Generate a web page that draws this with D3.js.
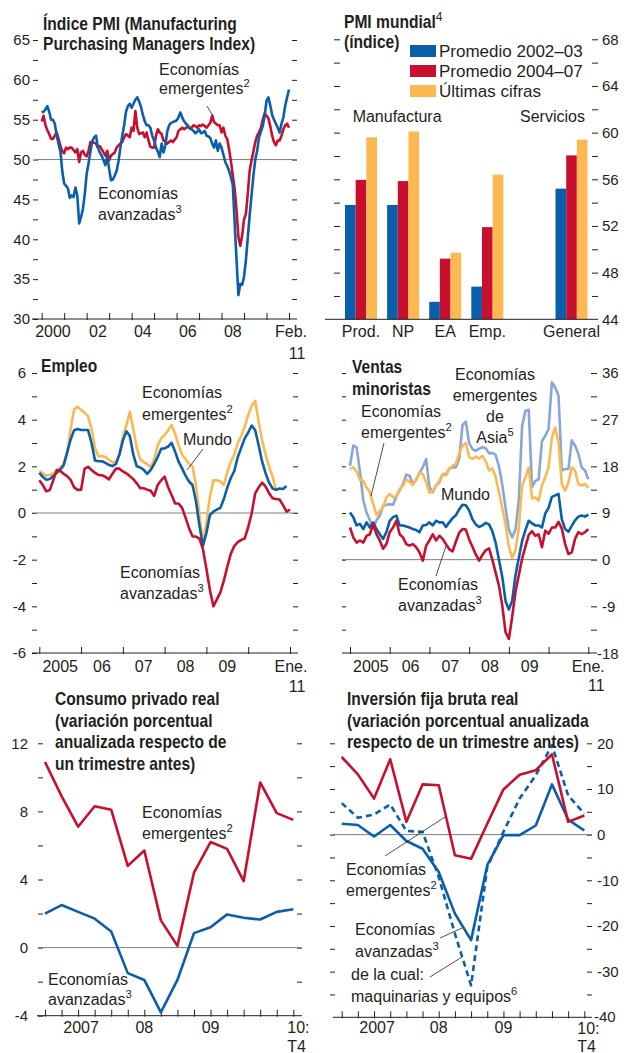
<!DOCTYPE html>
<html>
<head>
<meta charset="utf-8">
<script src="https://cdn.jsdelivr.net/npm/d3@7"></script>
<style>
  body { margin: 0; background: #fff; }
</style>
</head>
<body>
<div id="chart"></div>
<script>
// ---- data ----------------------------------------------------------------

// PMI manufacturero, mensual, ene. 2000 - 2011
const pmiAdvanced = [
  55.9, 56.0, 56.3, 56.7, 56.0, 55.0, 55.0, 54.5, 53.0, 52.0, 51.0, 48.5,
  47.0, 46.7, 46.4, 45.2, 45.5, 45.3, 46.5, 45.5, 42.0, 42.8, 43.8, 45.7,
  48.2, 49.5, 51.0, 52.3, 52.8, 53.0, 51.5, 50.9, 50.5, 49.9, 49.3, 50.5,
  48.8, 47.4, 47.5, 48.0, 48.6, 49.8, 51.5, 53.0, 54.3, 56.0, 56.7, 57.0,
  56.5, 57.0, 57.5, 57.8, 57.3, 56.6, 55.6, 54.8, 54.3, 54.3, 54.0, 53.0,
  52.4, 51.5, 51.0, 50.3, 52.0, 50.9, 51.8, 53.5, 54.3, 54.6, 54.7, 54.8,
  54.9, 55.3, 55.9, 55.3, 54.8, 54.5, 54.3, 53.9, 53.8, 53.6, 53.3, 53.5,
  53.8, 53.3, 53.4, 53.6, 53.0, 52.9, 52.7, 52.0, 51.5, 52.4, 51.1, 52.0,
  51.5, 50.6, 49.7, 49.2, 48.6, 47.8, 46.8, 42.0, 37.4, 33.0, 34.4, 34.3,
  35.3, 37.4, 40.2, 43.0, 45.5, 48.0, 50.0, 51.1, 52.8, 53.5, 54.2, 55.5,
  57.4, 57.8, 56.8, 55.6, 55.0, 54.5, 54.0, 53.4, 54.5, 55.3, 56.8, 57.8,
  58.8
];
const pmiEmerging = [
  54.8, 55.5, 54.3, 53.7, 53.2, 52.6, 52.6, 53.0, 53.4, 52.6, 51.7, 51.0,
  50.8, 51.5, 51.3, 51.5, 51.5, 51.2, 50.9, 51.3, 49.7, 50.9, 51.1, 50.6,
  50.4, 51.1, 52.2, 52.2, 52.1, 52.0, 51.5, 51.7, 51.3, 50.9, 50.5, 51.1,
  49.9, 50.5, 50.7, 50.9, 51.5, 51.8, 52.0, 52.2, 52.8, 53.2, 53.0, 52.8,
  54.0, 53.6, 56.1, 54.0, 53.2, 53.3, 53.4, 52.8, 53.4, 52.4, 51.6, 51.5,
  51.5, 53.0, 53.8, 53.4, 53.2, 52.4, 52.3, 52.0, 52.2, 52.4, 52.2, 52.5,
  52.8, 53.6, 53.8, 54.0, 53.8, 54.0, 54.1, 54.0, 54.0, 54.3, 54.2, 54.0,
  54.3, 54.2, 54.4, 54.2, 54.0, 54.3, 54.6, 55.5, 54.7, 54.5, 54.3, 54.3,
  53.4, 54.0, 53.0, 52.6, 51.3, 49.8, 48.0, 46.3, 43.6, 40.3, 39.2, 40.5,
  42.5, 43.2, 45.7, 48.6, 49.9, 51.0, 52.2, 53.0, 53.4, 54.0, 55.0, 55.8,
  55.5, 55.2, 54.2, 53.0, 52.2, 51.8, 52.4, 52.4, 53.0, 53.8, 54.3, 54.5,
  54.0
];
const pmiYearLabels = ["2000", "02", "04", "06", "08"];

// PMI mundial (barras)
const barCategories = ["Prod.", "NP", "EA", "Emp.", "General"];
const barSeriesNames = ["Promedio 2002\u201303", "Promedio 2004\u201307", "\u00daltimas cifras"];
const barAvg0203 = [53.8, 53.8, 45.5, 46.8, 55.2];
const barAvg0407 = [55.95, 55.85, 49.2, 51.9, 58.05];
const barLatest = [59.6, 60.1, 49.7, 56.4, 59.4];

// Empleo, mensual, ene. 2005 - ene. 2011
const empEmerging = [
  1.80, 1.70, 1.60, 1.63, 1.70, 1.80, 1.95, 2.10, 2.60, 3.60, 4.45, 4.55,
  4.42, 4.30, 4.15, 3.60, 2.80, 2.42, 2.44, 2.40, 2.28, 2.17, 2.18, 2.50,
  3.30, 3.75, 4.34, 3.60, 2.80, 2.30, 2.18, 2.10, 1.95, 2.30, 2.90, 3.20,
  3.35, 3.55, 3.77, 3.40, 2.90, 2.50, 2.30, 2.10, 1.99, 1.20, -0.10, -1.30,
  -0.40, 0.70, 1.40, 1.40, 1.35, 1.20, 1.75, 2.20, 2.50, 3.00, 3.30, 3.70,
  4.20, 4.60, 4.81, 3.90, 3.10, 2.50, 2.00, 1.55, 1.00
];
const empWorld = [
  1.72, 1.55, 1.42, 1.46, 1.58, 1.72, 1.85, 2.05, 2.60, 3.15, 3.55, 3.60,
  3.56, 3.56, 3.56, 3.00, 2.25, 2.22, 2.22, 2.15, 2.06, 2.01, 2.10, 2.50,
  3.10, 3.50, 3.30, 2.50, 2.00, 1.95, 1.85, 1.68, 1.85, 2.10, 2.40, 2.75,
  2.77, 2.85, 3.01, 2.63, 2.20, 1.91, 1.60, 1.35, 1.20, 0.50, -0.55, -1.41,
  -0.85, -0.09, 0.06, 0.15, 0.22, 0.60, 1.10, 1.50, 1.80, 2.40, 2.80, 3.20,
  3.45, 3.75, 3.55, 2.90, 2.20, 1.70, 1.30, 1.05, 0.99, 1.05, 1.03, 1.16
];
const empAdvanced = [
  1.40, 1.20, 0.93, 0.98, 1.40, 1.84, 1.80, 1.68, 1.58, 1.42, 1.10, 0.99,
  1.00, 1.90, 1.98, 1.84, 1.72, 1.63, 1.62, 1.55, 1.44, 1.68, 1.90, 1.90,
  1.78, 1.70, 1.58, 1.45, 1.27, 1.06, 1.06, 1.00, 0.95, 0.73, 1.20, 1.40,
  1.56, 1.10, 0.77, 0.41, 0.41, 0.22, -0.20, -0.65, -1.00, -1.01, -1.10, -1.55,
  -2.40, -3.30, -4.00, -3.70, -3.40, -2.90, -2.30, -1.75, -1.42, -1.25, -1.15, -1.09,
  -0.60, -0.01, 0.84, 1.10, 1.30, 1.13, 0.85, 0.63, 0.60, 0.58, 0.34, 0.06,
  0.15
];
const monthlyYearLabels = ["2005", "06", "07", "08", "09"];

// Ventas minoristas, mensual, ene. 2005 - ene. 2011
const retAsia = [
  18.1, 22.0, 21.7, 17.0, 11.5, 9.1, 7.6, 6.0, 7.6, 8.5, 10.4, 10.6,
  10.7, 10.6, 12.2, 13.3, 14.6, 16.4, 16.2, 14.6, 15.4, 16.8, 17.8, 19.4,
  14.0, 13.0, 14.3, 14.9, 16.5, 16.5, 17.6, 17.8, 17.8, 19.4, 26.0, 26.6,
  22.5, 21.3, 21.0, 21.4, 21.7, 21.5, 20.5, 20.6, 20.2, 18.0, 14.5, 10.0,
  5.8, 4.3, 5.8, 11.5, 25.8, 28.7, 28.9, 14.0, 15.2, 15.5, 22.9, 23.9,
  25.2, 34.2, 33.2, 31.6, 17.2, 17.5, 17.5, 23.0, 22.0, 20.4, 17.8, 17.2,
  15.5
];
const retEmerging = [
  17.5, 17.8, 17.0, 15.4, 15.2, 13.9, 13.0, 10.8, 8.6, 9.4, 10.1, 12.0,
  12.7, 12.0, 12.3, 13.6, 14.3, 15.5, 15.0, 14.4, 15.5, 16.8, 16.5, 15.0,
  12.9, 13.3, 14.3, 15.2, 16.5, 16.2, 17.5, 18.1, 18.5, 20.5, 22.0, 22.5,
  19.8, 19.4, 19.9, 19.5, 20.0, 19.0, 17.2, 17.6, 16.0, 13.0, 10.0, 6.8,
  2.5, 0.3, 1.8, 6.0, 14.3, 15.9, 17.8, 11.8, 12.0, 11.4, 14.3, 15.9,
  17.8, 23.6, 25.5, 22.6, 14.6, 13.3, 14.9, 17.8, 17.2, 14.6, 14.3, 14.6,
  13.9
];
const retWorld = [
  9.1, 8.2, 6.6, 6.9, 5.9, 7.2, 6.2, 7.2, 5.9, 4.9, 4.0, 5.3,
  7.5, 8.2, 8.5, 6.6, 6.6, 6.4, 6.2, 5.9, 5.7, 5.3, 6.6, 6.7,
  7.2, 6.6, 7.5, 7.2, 7.2, 6.3, 7.2, 8.0, 8.6, 9.7, 10.6, 10.5,
  9.5, 7.8, 6.8, 6.3, 6.6, 7.1, 6.8, 5.5, 3.3, 0.0, -3.3, -8.0,
  -9.6, -7.9, -3.0, 0.3, 3.6, 5.7, 7.5, 7.0, 6.6, 6.6, 6.2, 8.9,
  10.0, 12.1, 12.4, 12.7, 7.8, 5.9, 5.4, 6.5, 7.6, 8.3, 8.5, 8.3,
  8.7
];
const retAdvanced = [
  6.2, 4.3, 3.3, 3.7, 3.3, 4.6, 4.9, 6.9, 4.9, 3.7, 2.1, 3.0,
  5.3, 6.2, 7.5, 4.9, 4.3, 3.0, 2.7, 3.0, 2.4, 1.4, -0.2, 2.7,
  3.7, 4.9, 3.7, 4.6, 4.0, 3.0, 2.0, 1.6, 3.5, 5.2, 5.9, 5.8,
  3.9, 2.5, 1.0, -0.2, 0.9, 1.8, 2.2, 0.0, -2.5, -5.0, -8.8, -14.0,
  -15.3, -11.0, -6.2, -3.0, 0.2, 2.5, 4.8, 5.5, 4.6, 4.9, 2.4, 5.6,
  5.0, 6.2, 6.2, 7.3, 6.0, 3.0, 1.1, 1.4, 4.0, 5.3, 4.9, 5.3,
  5.9
];

// Consumo privado real, trimestral, 2007:T1 - 2010:T4
const conEmerging = [10.9, 8.9, 7.1, 8.3, 8.1, 4.8, 5.7, 1.6, 0.1, 4.4, 6.2, 5.8, 3.9, 9.7, 7.9, 7.5];
const conAdvanced = [2.0, 2.5, 2.1, 1.7, 0.95, -1.5, -1.9, -3.8, -1.9, 0.85, 1.2, 1.95, 1.75, 1.65, 2.1, 2.25];

// Inversión fija bruta real, trimestral, 2007:T1 - 2010:T4
const invEmerging = [17.0, 13.2, 7.9, 16.5, 2.8, 11.0, 10.8, -4.5, -5.3, 2.4, 9.9, 13.1, 14.1, 17.6, 2.8, 4.2];
const invAdvanced = [2.4, 2.1, -0.4, 2.1, -1.4, -3.1, -8.2, -17.3, -23.1, -6.7, -0.1, -0.1, 2.0, 11.0, 3.3, 0.9];
const invMachinery = [6.9, 3.7, 4.4, 6.6, 0.8, 0.6, -9.3, -21.7, -33.0, -7.1, 0.6, 7.9, 13.0, 19.6, 8.6, 4.6];
const quarterYearLabels = ["2007", "08", "09", "10:"];

// ---- drawing -------------------------------------------------------------

const FONT = "'Liberation Sans', Arial, sans-serif";
const INK = "#231f20";
const BLUE = "#0a5fad", RED = "#c8102e", YELLOW = "#fcb951", ASIA = "#89a6d8", GRID = "#7d7d7d";

const svg = d3.select("#chart").append("svg")
  .attr("width", 629).attr("height", 1053)
  .style("display", "block");

function vAxis(scale, x, values, opts) {
  const o = Object.assign({ side: "left", size: 5, pad: 3, fmt: () => "" }, opts);
  const axis = (o.side === "left" ? d3.axisLeft(scale) : d3.axisRight(scale))
    .tickValues(values).tickSize(o.size).tickPadding(o.pad).tickFormat(o.fmt);
  const g = svg.append("g").attr("transform", `translate(${x},0)`).call(axis);
  g.select(".domain").remove();
  g.attr("font-family", FONT).attr("font-size", 15);
  g.selectAll("line").attr("stroke", INK);
  g.selectAll("text").attr("fill", INK);
  return g;
}

function hAxis(scale, yPos, values, x0, x1) {
  const g = svg.append("g").attr("transform", `translate(0,${yPos})`)
    .call(d3.axisBottom(scale).tickValues(values).tickSizeInner(-6).tickSizeOuter(0).tickFormat(""));
  g.select(".domain").remove();
  g.selectAll("line").attr("stroke", INK).attr("y1", 1);
  g.append("line").attr("x1", x0).attr("x2", x1).attr("stroke", INK);
}

function refLine(x0, x1, yPos) {
  svg.append("line").attr("x1", x0).attr("x2", x1).attr("y1", yPos).attr("y2", yPos)
    .attr("stroke", GRID).attr("stroke-width", 1);
}

// text with optional superscript "^n"; bold titles are squeezed to look condensed
function txt(x, y, str, opts) {
  const o = Object.assign({ anchor: "start", size: 16, bold: false }, opts);
  const t = svg.append("text").attr("x", x).attr("y", y)
    .attr("text-anchor", o.anchor)
    .attr("font-family", FONT)
    .attr("font-weight", o.bold ? "bold" : "normal")
    .attr("font-size", o.size).attr("fill", INK);
  const [main, sup] = str.split("^");
  const m = t.append("tspan").text(main);
  if (o.bold) {
    const len = m.node().getComputedTextLength();
    m.attr("textLength", len * 0.82).attr("lengthAdjust", "spacingAndGlyphs");
  }
  if (sup) t.append("tspan").attr("dy", -7).attr("font-size", o.bold ? 12 : o.size * 0.7)
    .attr("font-weight", "normal").text(sup);
  return t;
}
function lines(x, y, arr, step, opts) {
  arr.forEach((s, i) => txt(x, y + i * step, s, opts));
}
function leader(x1, y1, x2, y2) {
  svg.append("line").attr("x1", x1).attr("y1", y1).attr("x2", x2).attr("y2", y2)
    .attr("stroke", INK).attr("stroke-width", 0.8);
}
function series(data, x, y, color, dash) {
  const line = d3.line().x((d, i) => x(i)).y(d => y(d));
  svg.append("path").datum(data).attr("d", line)
    .attr("fill", "none").attr("stroke", color).attr("stroke-width", 2.6)
    .attr("stroke-linejoin", "round")
    .attr("stroke-dasharray", dash || null);
}

// ---------- panel 1: PMI ----------
{
  const x = d3.scaleLinear().domain([0, pmiAdvanced.length - 1]).range([41.7, 289]);
  const y = d3.scaleLinear().domain([30, 65]).range([319, 40]);
  vAxis(y, 38, d3.range(30, 65.1, 2.5), { fmt: d => d % 5 === 0 ? d : "" });
  vAxis(y, 297, d3.range(32.5, 65.1, 2.5));
  refLine(36, 297, y(50));
  hAxis(x, 319, d3.range(0, pmiAdvanced.length, 12), 32, 297);
  series(pmiEmerging, x, y, RED);
  series(pmiAdvanced, x, y, BLUE);
  pmiYearLabels.forEach((s, i) => txt(x(6 + i * 24), 337, s, { anchor: "middle" }));
  txt(x(pmiAdvanced.length - 1) + 2, 337, "Feb.", { anchor: "middle" });
  txt(x(pmiAdvanced.length - 1) + 8, 359, "11", { anchor: "middle" });

  lines(43, 30, ["\u00cdndice PMI (Manufacturing", "Purchasing Managers Index)"], 20, { bold: true, size: 19 });
  lines(159, 75, ["Econom\u00edas", "emergentes^2"], 19);
  leader(207, 106, 213, 116);
  lines(98, 199, ["Econom\u00edas", "avanzadas^3"], 21);
}

// ---------- panel 2: PMI mundial (barras) ----------
{
  const slots = barCategories.slice(0, 4).concat(["", barCategories[4]]);
  const xb = d3.scaleBand().domain(slots).range([345, 587.5]).paddingInner(0.24);
  const xs = d3.scaleBand().domain(d3.range(3)).range([0, xb.bandwidth()]);
  const y = d3.scaleLinear().domain([44, 68]).range([319.3, 39.3]);
  const colors = [BLUE, RED, YELLOW];
  const all = [barAvg0203, barAvg0407, barLatest];

  vAxis(y, 340, d3.range(46, 68.1, 2), { size: 6 });
  vAxis(y, 592, d3.range(46, 68.1, 2), { side: "right", size: 6, pad: 4, fmt: d => d % 4 === 0 ? d : "" });
  txt(602, y(44) + 5.5, "44", { size: 15 });

  all.forEach((vals, s) => {
    svg.append("g").selectAll("rect").data(vals).join("rect")
      .attr("x", (d, i) => xb(barCategories[i]) + xs(s))
      .attr("y", d => y(d))
      .attr("width", xs.bandwidth())
      .attr("height", d => y(44) - y(d))
      .attr("fill", colors[s]);
  });
  svg.append("line").attr("x1", 325).attr("x2", 598).attr("y1", y(44)).attr("y2", y(44)).attr("stroke", INK);
  barCategories.forEach(c => txt(xb(c) + xb.bandwidth() / 2, 337, c, { anchor: "middle" }));

  txt(344, 28, "PMI mundial^4", { bold: true, size: 19 });
  txt(344, 48, "(\u00edndice)", { bold: true, size: 19 });
  barSeriesNames.forEach((s, i) => {
    svg.append("rect").attr("x", 410).attr("y", 45 + i * 20).attr("width", 26).attr("height", 12).attr("fill", colors[i]);
    txt(439, 57 + i * 19.8, s, { size: 17 });
  });
  txt(xb("NP") + 10, 122, "Manufactura", { anchor: "middle" });
  txt(xb("General") - 3, 122, "Servicios", { anchor: "middle" });
}

// ---------- panel 3: Empleo ----------
{
  const x = d3.scaleLinear().domain([0, 72]).range([39.3, 290]);
  const y = d3.scaleLinear().domain([-6, 6]).range([653, 373]);
  vAxis(y, 37, d3.range(-6, 6.1, 1), { pad: 6, fmt: d => d % 2 === 0 ? d : "" });
  vAxis(y, 298, d3.range(-5, 6.1, 1));
  refLine(32, 298, y(0));
  hAxis(x, 653, d3.range(0, 73, 12), 32, 298);
  series(empEmerging, x, y, YELLOW);
  series(empWorld, x, y, BLUE);
  series(empAdvanced, x, y, RED);
  monthlyYearLabels.forEach((s, i) => txt(x(6 + i * 12), 672, s, { anchor: "middle" }));
  txt(x(72) + 1, 672, "Ene.", { anchor: "middle" });
  txt(x(72) + 7, 692, "11", { anchor: "middle" });

  txt(41, 372, "Empleo", { bold: true, size: 19 });
  lines(142, 398, ["Econom\u00edas", "emergentes^2"], 21.5);
  txt(183, 445, "Mundo");
  leader(203, 449, 187, 470);
  lines(120, 578, ["Econom\u00edas", "avanzadas^3"], 20.5);
}

// ---------- panel 4: Ventas minoristas ----------
{
  const x = d3.scaleLinear().domain([0, 72]).range([350, 588.3]);
  const y = d3.scaleLinear().domain([-18, 36]).range([653, 373]);
  vAxis(y, 346, d3.range(-13.5, 36.1, 4.5), { size: 4 });
  vAxis(y, 591, d3.range(-13.5, 36.1, 4.5), { side: "right", size: 6, pad: 5, fmt: d => d % 9 === 0 ? d : "" });
  txt(597, y(-18) + 5.5, "-18", { size: 15 });
  refLine(342, 597, y(0));
  hAxis(x, 653, d3.range(0, 73, 12), 342, 597);
  series(retAsia, x, y, ASIA);
  series(retEmerging, x, y, YELLOW);
  series(retWorld, x, y, BLUE);
  series(retAdvanced, x, y, RED);
  monthlyYearLabels.forEach((s, i) => txt(x(6 + i * 12) + 1, 672, s, { anchor: "middle" }));
  txt(x(72), 672, "Ene.", { anchor: "middle" });
  txt(x(72) + 8, 691, "11", { anchor: "middle" });

  lines(352, 373, ["Ventas", "minoristas"], 22, { bold: true, size: 19 });
  lines(361, 417, ["Econom\u00edas", "emergentes^2"], 21);
  leader(384, 443, 371, 496);
  lines(495, 380, ["Econom\u00edas", "emergentes", "de", "Asia^5"], 21, { anchor: "middle" });
  txt(441, 500, "Mundo");
  lines(398, 590, ["Econom\u00edas", "avanzadas^3"], 20.5);
  leader(446, 546, 436, 576);
}

// ---------- panel 5: Consumo privado real ----------
{
  const x = d3.scaleLinear().domain([0, 15]).range([45, 293.3]);
  const y = d3.scaleLinear().domain([-4, 12]).range([1015.7, 743.3]);
  vAxis(y, 43, d3.range(-4, 12.1, 2), { pad: 10, fmt: d => d % 4 === 0 ? d : "" });
  vAxis(y, 302, d3.range(-2, 12.1, 2));
  refLine(38, 302, y(0));
  hAxis(x, y(-4), d3.range(0, 16, 1), 37, 302);
  series(conEmerging, x, y, RED);
  series(conAdvanced, x, y, BLUE);
  quarterYearLabels.slice(0, 3).forEach((s, i) => txt(x(2 + i * 4) + (i === 0 ? 3 : 0), 1033, s, { anchor: "middle" }));
  txt(x(15) - 6, 1033, quarterYearLabels[3]);
  txt(x(15) - 6, 1052, "T4");

  lines(55, 705, ["Consumo privado real", "(variaci\u00f3n porcentual", "anualizada respecto de", "un trimestre antes)"], 21.5, { bold: true, size: 19 });
  lines(142, 818, ["Econom\u00edas", "emergentes^2"], 21);
  lines(48, 985, ["Econom\u00edas", "avanzadas^3"], 20);
}

// ---------- panel 6: Inversión fija bruta real ----------
{
  const x = d3.scaleLinear().domain([0, 15]).range([341.7, 584.3]);
  const y = d3.scaleLinear().domain([-40, 20]).range([1017.3, 743.3]);
  vAxis(y, 330, d3.range(-35, 20.1, 5), { side: "right", size: 5 });
  vAxis(y, 587, d3.range(-35, 20.1, 5), { side: "right", size: 5, pad: 5, fmt: d => d % 10 === 0 ? d : "" });
  txt(594, y(-40) + 5, "-40", { size: 15 });
  refLine(333, 592, y(0));
  hAxis(x, y(-40), d3.range(0, 16, 1), 333, 592);
  series(invMachinery, x, y, BLUE, "6,4");
  series(invAdvanced, x, y, BLUE);
  series(invEmerging, x, y, RED);
  quarterYearLabels.slice(0, 3).forEach((s, i) => txt(x(2 + i * 4) + (i === 0 ? 3 : 0), 1033, s, { anchor: "middle" }));
  txt(x(15) - 7, 1034, quarterYearLabels[3]);
  txt(x(15) - 7, 1052, "T4");

  lines(347, 705, ["Inversi\u00f3n fija bruta real", "(variaci\u00f3n porcentual anualizada", "respecto de un trimestre antes)"], 21.5, { bold: true, size: 19 });
  lines(346, 875, ["Econom\u00edas", "emergentes^2"], 20.5);
  leader(385, 856, 445, 817);
  lines(355, 935, ["Econom\u00edas", "avanzadas^3"], 21.5);
  leader(440, 938, 462, 928);
  lines(351, 980, ["de la cual:", "maquinarias y equipos^6"], 21.5);
  leader(430, 977, 462, 957);
}
</script>
</body>
</html>
